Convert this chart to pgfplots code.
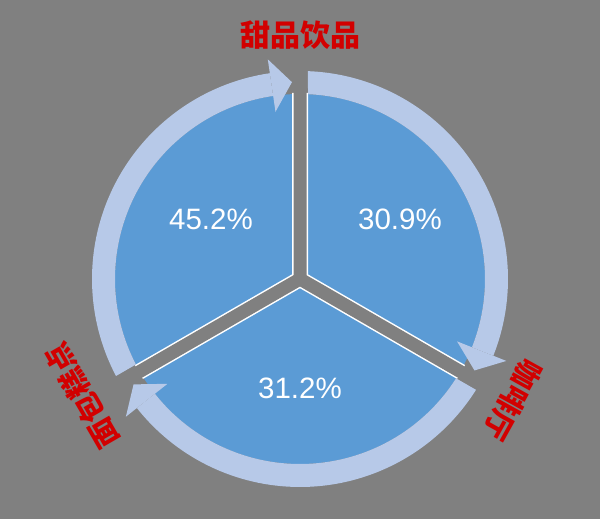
\documentclass[border=0pt]{standalone}
\usepackage{pgfplots}
\pgfplotsset{compat=1.18}
\usepackage{fontspec}
\setmainfont{Liberation Sans}
\newfontfamily\cjk{Noto Sans CJK SC}
\definecolor{bg}{RGB}{128,128,128}
\definecolor{pieblue}{RGB}{91,155,213}
\definecolor{ringblue}{RGB}{183,201,232}
\definecolor{labelred}{RGB}{210,0,0}

\begin{document}
\begin{tikzpicture}
\begin{axis}[
    x=1pt, y=1pt,
    xmin=0, xmax=600, ymin=0, ymax=519,
    hide axis, clip=false,
  ]
  % background
  \fill[bg] (axis cs:0,0) rectangle (axis cs:600,519);

  \begin{scope}[shift={(axis cs:300,240)}]
    % three equal sectors
    \fill[pieblue] (0pt,0pt) circle[radius=185pt];
    % gaps between sectors, white edged
    \draw[white, line width=16pt] (90:186pt) -- (0pt,0pt) -- (210:186pt) (0pt,0pt) -- (-30:186pt);
    \draw[bg, line width=13pt] (90:190pt) -- (0pt,0pt) -- (210:190pt) (0pt,0pt) -- (-30:190pt);

    % outer ring, clockwise arrows
    \fill[ringblue] (87.8:208pt) arc[start angle=87.8, end angle=-21.66, radius=208pt]
      -- (-21.66:185pt) arc[start angle=-21.66, end angle=87.52, radius=185pt] -- cycle;
    \fill[ringblue] (-27.66:197pt) -- (-21.66:169pt) -- (-21.66:222pt) -- cycle;

    \fill[ringblue] (-32.2:208pt) arc[start angle=-32.2, end angle=-141.66, radius=208pt]
      -- (-141.66:185pt) arc[start angle=-141.66, end angle=-32.48, radius=185pt] -- cycle;
    \fill[ringblue] (-147.66:197pt) -- (-141.66:169pt) -- (-141.66:222pt) -- cycle;

    \fill[ringblue] (-152.2:208pt) arc[start angle=-152.2, end angle=-261.66, radius=208pt]
      -- (-261.66:185pt) arc[start angle=-261.66, end angle=-152.48, radius=185pt] -- cycle;
    \fill[ringblue] (-267.66:197pt) -- (-261.66:169pt) -- (-261.66:222pt) -- cycle;
  \end{scope}

  % share labels
  \addplot[only marks, mark=none, point meta=explicit symbolic,
    nodes near coords,
    every node near coord/.append style={anchor=center, text=white,
      font=\fontsize{29.5}{32}\selectfont}]
    coordinates {(211,300)[45.2\%] (400,300)[30.9\%] (300,131)[31.2\%]};

  % category names
  \node[text=labelred, font=\cjk\bfseries\fontsize{30}{32}\selectfont]
    at (axis cs:300,484) {甜品饮品};
  \node[text=labelred, rotate=-119, font=\cjk\bfseries\fontsize{29}{32}\selectfont]
    at (axis cs:513,119) {咖啡厅};
  \node[text=labelred, rotate=120, font=\cjk\bfseries\fontsize{29}{32}\selectfont]
    at (axis cs:82,123) {面包糕点};
\end{axis}
\end{tikzpicture}
\end{document}
